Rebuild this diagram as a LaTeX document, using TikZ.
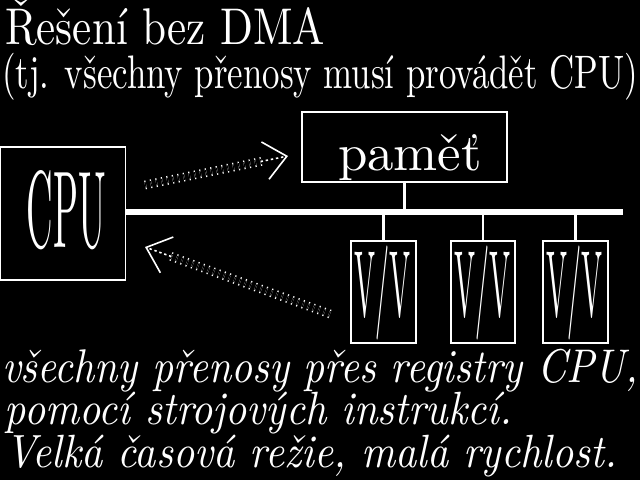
\documentclass[tikz,border=0pt]{standalone}
\usepackage{fontspec}
\usepackage{graphicx}
\usetikzlibrary{arrows.meta,calc}
\tikzset{
  txt/.style={inner sep=0pt, outer sep=0pt, text=white},
  boxnode/.style={draw=white, line width=0.6pt, inner sep=0pt, outer sep=0pt},
  bus/.style={draw=white, line width=3.2pt},
  link/.style={draw=white, line width=1.1pt},
  flow/.style={draw=white, double=black, line width=0.8pt, double distance=2.8pt,
    dash pattern=on 0.6pt off 2.2pt},
  flowhead/.style={draw=white, line width=0.8pt, dash pattern=on 1.2pt off 1.4pt,
    -{Straight Barb[length=11pt, width=19pt, line width=0.8pt]}},
}
\begin{document}
\begin{tikzpicture}[x=0.5pt,y=-0.5pt]
\fill[black] (0,0) rectangle (640,480);
\useasboundingbox (0,0) rectangle (640,480);

% title
\node[txt, anchor=north west] (t1) at (5,0) {\resizebox*{160pt}{23pt}{Řešení bez DMA}};
\node[txt, anchor=north west] (t2) at (2,53) {\resizebox*{318pt}{23.5pt}{(tj. všechny přenosy musí provádět CPU)}};

% CPU
\node[boxnode, minimum width=62.25pt, minimum height=66.5pt] (cpu) at (63,213.5) {};
\node[txt] (cput) at (66.5,210.5) {\resizebox{39.5pt}{38.5pt}{CPU}};

% memory
\node[boxnode, minimum width=102.5pt, minimum height=35pt] (mem) at (404.5,147) {};
\node[txt] (memt) at (410,158) {\resizebox*{72pt}{23pt}{paměť}};

% I/O boxes
\node[boxnode, minimum width=32.5pt, minimum height=51pt] (io1) at (383.5,292) {};
\node[boxnode, minimum width=32pt, minimum height=51pt] (io2) at (483,292) {};
\node[boxnode, minimum width=32.5pt, minimum height=51pt] (io3) at (575.5,292) {};
\node[txt] (io1t) at (382.5,293) {\resizebox*{28pt}{47pt}{V/V}};
\node[txt] (io2t) at (482,293) {\resizebox*{28pt}{47pt}{V/V}};
\node[txt] (io3t) at (574.5,293) {\resizebox*{28pt}{47pt}{V/V}};

% bus
\coordinate (busE) at (623,212);
\draw[bus] (cpu.east |- busE) -- (busE);
\draw[link] (mem.south) -- (mem.south |- busE);
\draw[link] (io1.north) -- (io1.north |- busE);
\draw[link] (io2.north) -- (io2.north |- busE);
\draw[link] (io3.north) -- (io3.north |- busE);

% transfer arrows
\coordinate (a1s) at (145,185);
\coordinate (a1e) at (288,156);
\coordinate (a2s) at (330,314);
\coordinate (a2e) at (145,247);
\draw[flow] (a1s) -- ($(a1e)!12pt!(a1s)$);
\draw[flowhead] ($(a1e)!14pt!(a1s)$) -- (a1e);
\draw[flow] (a2s) -- ($(a2e)!12pt!(a2s)$);
\draw[flowhead] ($(a2e)!14pt!(a2s)$) -- (a2e);

% bottom text
\node[txt, anchor=north west] (b1) at (2,349) {\resizebox*{318pt}{21.5pt}{\itshape všechny přenosy přes registry CPU,}};
\node[txt, anchor=north west] (b2) at (5,392) {\resizebox*{253.5pt}{21pt}{\itshape pomocí strojových instrukcí.}};
\node[txt, anchor=north west] (b3) at (5,435) {\resizebox*{306pt}{21pt}{\itshape Velká časová režie, malá rychlost.}};
\end{tikzpicture}
\end{document}
